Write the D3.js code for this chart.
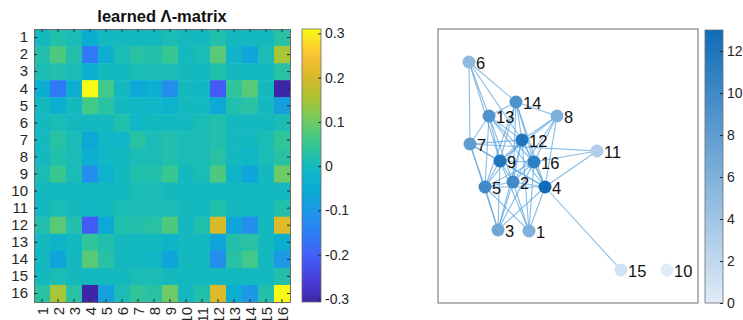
<!DOCTYPE html>
<html>
<head>
<meta charset="utf-8">
<script src="https://cdn.jsdelivr.net/npm/d3@7"></script>
<style>
  body { margin: 0; background: #fff; }
  svg { display: block; font-family: "Liberation Sans", Arial, Helvetica, sans-serif; }
</style>
</head>
<body>
<svg id="chart" width="743" height="320"></svg>
<script>
// learned matrix (symmetric)
const labels = d3.range(1, 17);
const lambdaRows = [
  [0.00, 0.02, 0.01, -0.05, 0.00, 0.00, 0.00, 0.00, 0.01, 0.00, 0.00, 0.02, 0.00, 0.00, 0.00, 0.03],
  [0.02, 0.07, 0.02, -0.16, -0.04, 0.01, 0.03, 0.02, 0.05, 0.00, 0.01, 0.08, -0.02, -0.07, 0.01, 0.15],
  [0.01, 0.02, 0.01, -0.04, 0.00, 0.00, 0.01, 0.01, 0.01, 0.00, 0.00, 0.02, 0.00, 0.00, 0.00, 0.03],
  [-0.05, -0.16, -0.04, 0.31, 0.06, 0.00, -0.06, -0.04, -0.12, 0.00, -0.01, -0.21, 0.04, 0.08, 0.00, -0.307],
  [0.00, -0.04, 0.00, 0.06, 0.03, 0.00, -0.01, -0.01, -0.03, 0.00, 0.00, -0.06, 0.02, 0.03, 0.00, -0.08],
  [0.00, 0.01, 0.00, 0.00, 0.00, 0.02, -0.01, 0.00, 0.00, 0.00, 0.01, 0.02, 0.00, 0.00, 0.00, 0.01],
  [0.00, 0.03, 0.01, -0.06, -0.01, -0.01, 0.03, 0.01, 0.02, 0.01, 0.01, 0.02, 0.00, 0.00, 0.01, 0.04],
  [0.00, 0.02, 0.01, -0.04, -0.01, 0.00, 0.01, 0.01, 0.02, 0.01, 0.01, 0.03, 0.00, -0.01, 0.01, 0.03],
  [0.01, 0.05, 0.01, -0.12, -0.03, 0.00, 0.02, 0.02, 0.05, 0.00, 0.01, 0.07, -0.02, -0.07, 0.00, 0.10],
  [0.00, 0.00, 0.00, 0.00, 0.00, 0.00, 0.01, 0.01, 0.00, 0.00, 0.00, 0.00, 0.00, 0.00, 0.00, 0.00],
  [0.00, 0.01, 0.00, -0.01, 0.00, 0.01, 0.01, 0.01, 0.01, 0.00, 0.00, 0.02, 0.00, 0.00, 0.00, 0.02],
  [0.02, 0.08, 0.02, -0.21, -0.06, 0.02, 0.02, 0.03, 0.07, 0.00, 0.02, 0.20, -0.07, -0.12, 0.00, 0.21],
  [0.00, -0.02, 0.00, 0.04, 0.02, 0.00, 0.00, 0.00, -0.02, 0.00, 0.00, -0.07, 0.02, 0.03, 0.00, -0.04],
  [0.00, -0.07, 0.00, 0.08, 0.03, 0.00, 0.00, -0.01, -0.07, 0.00, 0.00, -0.12, 0.03, 0.06, 0.00, -0.10],
  [0.00, 0.01, 0.00, 0.00, 0.00, 0.00, 0.01, 0.01, 0.00, 0.00, 0.00, 0.00, 0.00, 0.00, 0.00, 0.02],
  [0.03, 0.15, 0.03, -0.307, -0.08, 0.01, 0.04, 0.03, 0.10, 0.00, 0.02, 0.21, -0.04, -0.10, 0.02, 0.31]
];
const lambdaTicks = [-0.3, -0.2, -0.1, 0, 0.1, 0.2, 0.3];

// graph layout (node positions in plot units) and edges
const nodeIds = d3.range(1, 17);
const nodeX = [9.1, 7.5, 6.0, 10.7, 4.7, 3.1, 3.2, 11.9, 6.2, 22.9, 15.9, 8.4, 5.1, 7.8, 18.3, 9.6];
const nodeY = [7.2, 12.1, 7.3, 11.6, 11.6, 24.1, 15.9, 18.7, 14.2, 3.3, 15.2, 16.3, 18.7, 20.1, 3.3, 14.1];
const edges = [
  [1, 2], [1, 4], [1, 5], [1, 9], [1, 12], [1, 16],
  [2, 3], [2, 4], [2, 5], [2, 8], [2, 9], [2, 12], [2, 13], [2, 14], [2, 16],
  [3, 4], [3, 5], [3, 7], [3, 9], [3, 12], [3, 16],
  [4, 5], [4, 7], [4, 8], [4, 9], [4, 11], [4, 12], [4, 13], [4, 14], [4, 15], [4, 16],
  [5, 7], [5, 9], [5, 12], [5, 13], [5, 14], [5, 16],
  [6, 7], [6, 9], [6, 12], [6, 13], [6, 14],
  [7, 9], [7, 11], [7, 12], [7, 13],
  [8, 9], [8, 12], [8, 14], [8, 16],
  [9, 12], [9, 13], [9, 14], [9, 16],
  [11, 16],
  [12, 13], [12, 14], [12, 16],
  [13, 14], [13, 16],
  [14, 16]
];
const degreeTicks = [0, 2, 4, 6, 8, 10, 12];

const svg = d3.select('#chart');
const axisGrey = '#6b6b6b';

// parula-like colormap
const parulaStops = [
  [0.00, '#3e26a8'], [0.08, '#473ed8'], [0.17, '#445ffa'], [0.25, '#2d7df5'],
  [0.33, '#1e96e6'], [0.41, '#0aacd4'], [0.49, '#11b8c4'], [0.58, '#38c790'],
  [0.66, '#6eca64'], [0.75, '#afc332'], [0.83, '#dab928'], [0.91, '#fcc337'],
  [1.00, '#f9fb14']
];
const vmin = d3.min(lambdaRows, r => d3.min(r));
const vmax = d3.max(lambdaRows, r => d3.max(r));
const color = d3.scaleLinear()
  .domain(parulaStops.map(s => vmin + s[0] * (vmax - vmin)))
  .range(parulaStops.map(s => s[1]))
  .clamp(true);

// ---------- heatmap ----------
const hx = d3.scaleBand().domain(labels).range([34, 290]);
const hy = d3.scaleBand().domain(labels).range([29, 302]);

const cells = [];
lambdaRows.forEach((row, i) => row.forEach((v, j) => cells.push({ r: labels[i], c: labels[j], v: v })));

svg.append('g')
  .selectAll('rect')
  .data(cells)
  .join('rect')
  .attr('x', d => hx(d.c))
  .attr('y', d => hy(d.r))
  .attr('width', hx.bandwidth() + 0.5)
  .attr('height', hy.bandwidth() + 0.5)
  .attr('fill', d => color(d.v));

function styleAxis(g) {
  g.select('.domain').attr('stroke', axisGrey);
  g.selectAll('.tick line').attr('stroke', '#262626');
  g.selectAll('.tick text').attr('fill', '#262626');
}

svg.append('g')
  .attr('transform', 'translate(34,0)')
  .call(d3.axisLeft(hy).tickSizeInner(-3).tickSizeOuter(0).tickPadding(6))
  .call(styleAxis)
  .call(g => g.selectAll('.tick text').attr('font-size', 15));

svg.append('g')
  .attr('transform', 'translate(290,0)')
  .call(d3.axisRight(hy).tickSizeInner(-3).tickSizeOuter(0).tickFormat(''))
  .call(styleAxis);

svg.append('g')
  .attr('transform', 'translate(0,29)')
  .call(d3.axisTop(hx).tickSizeInner(-3).tickSizeOuter(0).tickFormat(''))
  .call(styleAxis);

svg.append('g')
  .attr('transform', 'translate(0,302)')
  .call(d3.axisBottom(hx).tickSizeInner(-3).tickSizeOuter(0))
  .call(styleAxis)
  .call(g => g.selectAll('.tick text')
    .attr('font-size', 15)
    .attr('text-anchor', 'end')
    .attr('dy', null)
    .attr('y', null)
    .attr('dominant-baseline', 'central')
    .attr('transform', 'translate(0,5) rotate(-90)'));

svg.append('text')
  .attr('x', (hx.range()[0] + hx.range()[1]) / 2)
  .attr('y', 22)
  .attr('text-anchor', 'middle')
  .attr('font-size', 16.5)
  .attr('font-weight', 'bold')
  .attr('fill', '#111')
  .text('learned Λ-matrix');

// colorbar for the matrix
const defs = svg.append('defs');
const cb1 = d3.scaleLinear().domain([vmin, vmax]).range([302, 29]);
const grad1 = defs.append('linearGradient')
  .attr('id', 'grad1').attr('x1', 0).attr('y1', 1).attr('x2', 0).attr('y2', 0);
grad1.selectAll('stop')
  .data(d3.range(0, 1.0001, 0.02))
  .join('stop')
  .attr('offset', t => t)
  .attr('stop-color', t => color(vmin + t * (vmax - vmin)));

svg.append('rect')
  .attr('x', 302).attr('y', 29).attr('width', 19).attr('height', 273)
  .attr('fill', 'url(#grad1)')
  .attr('stroke', axisGrey).attr('stroke-width', 0.8);

svg.append('g')
  .attr('transform', 'translate(321,0)')
  .call(d3.axisRight(cb1).tickValues(lambdaTicks).tickSizeInner(-3).tickSizeOuter(0).tickPadding(4)
    .tickFormat(d => String(+d.toFixed(1))))
  .call(styleAxis)
  .call(g => g.select('.domain').remove())
  .call(g => g.selectAll('.tick text').attr('font-size', 14));

// ---------- graph ----------
const gx = d3.scaleLinear().domain([0, 26]).range([438, 698]);
const gy = d3.scaleLinear().domain([0, 27.4]).range([303, 29]);

const nodes = nodeIds.map((id, i) => ({ id: id, x: nodeX[i], y: nodeY[i], deg: 0 }));
edges.forEach(e => { nodes[e[0] - 1].deg++; nodes[e[1] - 1].deg++; });

const degColor = d3.scaleLinear().domain([0, 13]).range(['#e0ecf8', '#0f6cb8']);

svg.append('rect')
  .attr('x', 438).attr('y', 29).attr('width', 260).attr('height', 274)
  .attr('fill', 'none').attr('stroke', axisGrey).attr('stroke-width', 1);

svg.append('g')
  .selectAll('line')
  .data(edges)
  .join('line')
  .attr('x1', e => gx(nodes[e[0] - 1].x))
  .attr('y1', e => gy(nodes[e[0] - 1].y))
  .attr('x2', e => gx(nodes[e[1] - 1].x))
  .attr('y2', e => gy(nodes[e[1] - 1].y))
  .attr('stroke', '#5ea6dd')
  .attr('stroke-opacity', 0.75)
  .attr('stroke-width', 1.1);

const nodeG = svg.append('g')
  .selectAll('g')
  .data(nodes)
  .join('g')
  .attr('transform', d => 'translate(' + [gx(d.x), gy(d.y)] + ')');

nodeG.append('circle')
  .attr('r', 6.5)
  .attr('fill', d => degColor(d.deg));

nodeG.append('text')
  .attr('x', 7)
  .attr('dy', '0.42em')
  .attr('font-size', 16.5)
  .attr('fill', '#111')
  .text(d => d.id);

// colorbar for node degree
const cb2 = d3.scaleLinear().domain([0, 13]).range([303, 30]);
const grad2 = defs.append('linearGradient')
  .attr('id', 'grad2').attr('x1', 0).attr('y1', 1).attr('x2', 0).attr('y2', 0);
grad2.selectAll('stop')
  .data([0, 1])
  .join('stop')
  .attr('offset', t => t)
  .attr('stop-color', t => degColor(t * 13));

svg.append('rect')
  .attr('x', 705).attr('y', 30).attr('width', 18).attr('height', 273)
  .attr('fill', 'url(#grad2)')
  .attr('stroke', axisGrey).attr('stroke-width', 0.8);

svg.append('g')
  .attr('transform', 'translate(723,0)')
  .call(d3.axisRight(cb2).tickValues(degreeTicks).tickSizeInner(-3).tickSizeOuter(0).tickPadding(4))
  .call(styleAxis)
  .call(g => g.select('.domain').remove())
  .call(g => g.selectAll('.tick text').attr('font-size', 14));
</script>
</body>
</html>
